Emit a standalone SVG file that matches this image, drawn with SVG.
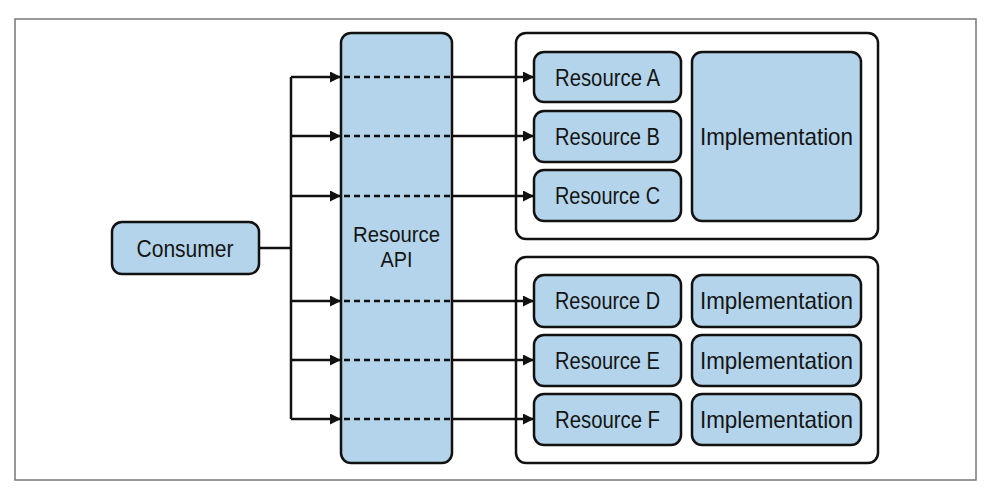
<svg xmlns="http://www.w3.org/2000/svg" width="985" height="494" viewBox="0 0 985 494">
<style>
.bg{fill:#ffffff}
.frame{fill:none;stroke:#777777;stroke-width:1.5}
.box{fill:#b3d4ea;stroke:#111111;stroke-width:2.5}
.grp{fill:#ffffff;stroke:#111111;stroke-width:2.5}
.t{font-family:"Liberation Sans",Arial,sans-serif;font-size:24px;fill:#141414;text-anchor:middle}
.ts{font-size:22px}
.ln{fill:none;stroke:#111111;stroke-width:2.5}
.dash{fill:none;stroke:#111111;stroke-width:2.5;stroke-dasharray:6 4}
</style>
<defs>
<marker id="ah" markerUnits="userSpaceOnUse" markerWidth="11" markerHeight="11" refX="11" refY="5.5" orient="auto">
<path d="M0,0 L11,5.5 L0,11 z" fill="#111111"/>
</marker>
</defs>
<rect class="bg" x="0" y="0" width="985" height="494"/>
<rect class="frame" x="15" y="19" width="961" height="461"/>

<g id="group-top"><rect class="grp" x="516" y="33" width="362" height="206" rx="10"/></g>
<g id="group-bottom"><rect class="grp" x="516" y="257" width="362" height="206" rx="10"/></g>

<g id="consumer"><rect class="box" x="112" y="222" width="147" height="52" rx="10"/><text class="t" x="185" y="257" textLength="97" lengthAdjust="spacingAndGlyphs">Consumer</text></g>

<g id="resource-api"><rect class="box" x="341" y="33" width="111" height="430" rx="10"/><text class="t ts" x="396.5" y="242" textLength="87" lengthAdjust="spacingAndGlyphs">Resource</text><text class="t ts" x="396.5" y="267" textLength="32" lengthAdjust="spacingAndGlyphs">API</text></g>

<g id="connectors">
<path class="ln" d="M259,248 H291 M291,77 V419"/>
<line class="ln" x1="291" y1="77" x2="341" y2="77" marker-end="url(#ah)"/>
<line class="ln" x1="291" y1="136" x2="341" y2="136" marker-end="url(#ah)"/>
<line class="ln" x1="291" y1="196" x2="341" y2="196" marker-end="url(#ah)"/>
<line class="ln" x1="291" y1="301" x2="341" y2="301" marker-end="url(#ah)"/>
<line class="ln" x1="291" y1="360" x2="341" y2="360" marker-end="url(#ah)"/>
<line class="ln" x1="291" y1="419" x2="341" y2="419" marker-end="url(#ah)"/>
<path class="dash" d="M344,77 H452 M344,136 H452 M344,196 H452 M344,301 H452 M344,360 H452 M344,419 H452"/>
<line class="ln" x1="452" y1="77" x2="534" y2="77" marker-end="url(#ah)"/>
<line class="ln" x1="452" y1="136" x2="534" y2="136" marker-end="url(#ah)"/>
<line class="ln" x1="452" y1="196" x2="534" y2="196" marker-end="url(#ah)"/>
<line class="ln" x1="452" y1="301" x2="534" y2="301" marker-end="url(#ah)"/>
<line class="ln" x1="452" y1="360" x2="534" y2="360" marker-end="url(#ah)"/>
<line class="ln" x1="452" y1="419" x2="534" y2="419" marker-end="url(#ah)"/>
</g>

<g id="resource-a"><rect class="box" x="534" y="52" width="147" height="50" rx="10"/><text class="t" x="607.5" y="86" textLength="105" lengthAdjust="spacingAndGlyphs">Resource A</text></g>
<g id="resource-b"><rect class="box" x="534" y="111" width="147" height="51" rx="10"/><text class="t" x="607.5" y="145" textLength="105" lengthAdjust="spacingAndGlyphs">Resource B</text></g>
<g id="resource-c"><rect class="box" x="534" y="170" width="147" height="51" rx="10"/><text class="t" x="607.5" y="204" textLength="105" lengthAdjust="spacingAndGlyphs">Resource C</text></g>
<g id="impl-abc"><rect class="box" x="692" y="52" width="169" height="169" rx="10"/><text class="t" x="776.5" y="145" textLength="153" lengthAdjust="spacingAndGlyphs">Implementation</text></g>

<g id="resource-d"><rect class="box" x="534" y="275" width="147" height="52" rx="10"/><text class="t" x="607.5" y="309" textLength="105" lengthAdjust="spacingAndGlyphs">Resource D</text></g>
<g id="resource-e"><rect class="box" x="534" y="335" width="147" height="51" rx="10"/><text class="t" x="607.5" y="369" textLength="105" lengthAdjust="spacingAndGlyphs">Resource E</text></g>
<g id="resource-f"><rect class="box" x="534" y="394" width="147" height="51" rx="10"/><text class="t" x="607.5" y="428" textLength="105" lengthAdjust="spacingAndGlyphs">Resource F</text></g>
<g id="impl-d"><rect class="box" x="692" y="275" width="169" height="52" rx="10"/><text class="t" x="776.5" y="309" textLength="153" lengthAdjust="spacingAndGlyphs">Implementation</text></g>
<g id="impl-e"><rect class="box" x="692" y="335" width="169" height="51" rx="10"/><text class="t" x="776.5" y="369" textLength="153" lengthAdjust="spacingAndGlyphs">Implementation</text></g>
<g id="impl-f"><rect class="box" x="692" y="394" width="169" height="51" rx="10"/><text class="t" x="776.5" y="428" textLength="153" lengthAdjust="spacingAndGlyphs">Implementation</text></g>
</svg>
